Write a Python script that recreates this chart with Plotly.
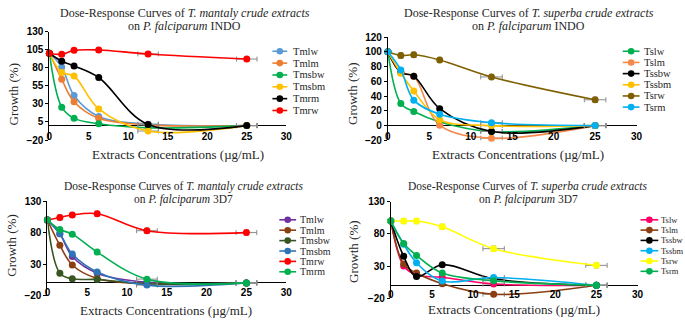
import plotly.graph_objects as go

W, H = 685, 325

# ---------------- data ----------------
CONC = [0, 1.5625, 3.125, 6.25, 12.5, 25]
X_TICKS = [0, 5, 10, 15, 20, 25, 30]

# Panel A : T. mantaly on P. falciparum INDO
A_NAMES = ["Tmlw", "Tmlm", "Tmsbw", "Tmsbm", "Tmrm", "Tmrw"]
A_TMLW = [100, 81, 41.5, 12.5, 2, 0]
A_TMLM = [100, 64, 33, 10, 1, 0]
A_TMSBW = [100, 25.5, 10, 2.5, -3, 0]
A_TMSBM = [100, 73.5, 68.5, 23, -7.5, 0]
A_TMRM = [100, 89, 82.5, 66.5, 1.5, 0]
A_TMRW = [100, 98.5, 104, 104.5, 99, 92]
A_YERR = [2, 2, 2, 2, 3, 3]
A_YTICKS = [-20, 5, 30, 55, 80, 105, 130]

# Panel B : T. superba on P. falciparum INDO
B_NAMES = ["Tslw", "Tslm", "Tssbw", "Tssbm", "Tsrw", "Tsrm"]
B_TSLW = [100, 30, 19, 5, -8, 0]
B_TSLM = [100, 72, 67, 0.5, -17, 0]
B_TSSBW = [100, 72, 67, 23, -8, 0]
B_TSSBM = [100, 71, 47, 8, 0, 0]
B_TSRW = [100, 95, 96, 89, 66, 35]
B_TSRM = [100, 75.5, 34.5, 15.5, 4, 0]
B_YERR = [2, 2, 2, 2, 3.5, 2]
B_YTICKS = [-20, 0, 20, 40, 60, 80, 100, 120]

# Panel C : T. mantaly on P. falciparum 3D7
C_NAMES = ["Tmlw", "Tmlm", "Tmsbw", "Tmsbm", "Tmrw", "Tmrm"]
C_TMLW = [100, 78, 42, 15.5, 1, 0]
C_TMLM = [100, 60, 28.5, 7, -1.5, 0]
C_TMSBW = [100, 15.5, 6.5, 5.5, -1.5, 0]
C_TMSBM = [100, 78, 46, 17.5, -3.5, 0]
C_TMRW = [100, 104, 108, 110, 83, 80]
C_TMRM = [100, 85, 77.5, 49, 6, 0]
C_YERR = [2, 2, 2, 2, 4, 2]
C_YTICKS = [-20, 30, 80, 130]

# Panel D : T. superba on P. falciparum 3D7
D_NAMES = ["Tslw", "Tslm", "Tssbw", "Tssbm", "Tsrw", "Tsrm"]
D_TSLW = [100, 30, 16, 12.5, 2, 0]
D_TSLM = [100, 33, 19, 2.5, -14, 0]
D_TSSBW = [100, 45, 13.5, 32, 10, 0]
D_TSSBM = [100, 64, 35, 6.5, 12, 0]
D_TSRW = [100, 100, 100, 91, 57, 31]
D_TSRM = [100, 65, 46.5, 19, 7, 0]
D_YERR = [2, 2, 2, 2, 4, 2]
D_YTICKS = [-20, 30, 80, 130]

X_ERR = [0, 0, 0, 0, 1.3, 1.3]

# ---------------- styles ----------------
A_COLORS = ["#5B9BD5", "#ED7D31", "#00B050", "#FFC000", "#000000", "#FF0000"]
B_COLORS = ["#00B050", "#F4894A", "#000000", "#FFC000", "#7F6000", "#00B0F0"]
C_COLORS = ["#7030A0", "#8B3E12", "#375623", "#2E75B6", "#FF0000", "#00B050"]
D_COLORS = ["#FF0066", "#8B3E12", "#000000", "#00B0F0", "#FFFF00", "#00B050"]

SERIF = "'Liberation Serif', 'Times New Roman', serif"
SANS = "'Liberation Sans', Arial, sans-serif"
TXT = "#262626"


def px(x):
    return x / W


def py(y):
    return 1 - y / H


panels = [
    dict(series=[A_TMLW, A_TMLM, A_TMSBW, A_TMSBM, A_TMRM, A_TMRW], names=A_NAMES,
         colors=A_COLORS, yerr=A_YERR, yticks=A_YTICKS, yrange=[-20, 130],
         box=(47, 287, 26.5, 139.2),
         title=("Dose-Response Curves of <i>T. mantaly crude extracts</i>",
                "on <i>P. falciparum</i> INDO"),
         tpos=(184, 7.5, 21, 12), xt=(177, 154), yt=(11, 92),
         leg=(273, 288, 292, 47, 12.3, 10.5)),
    dict(series=[B_TSLW, B_TSLM, B_TSSBW, B_TSSBM, B_TSRW, B_TSRM], names=B_NAMES,
         colors=B_COLORS, yerr=B_YERR, yticks=B_YTICKS, yrange=[-20, 120],
         box=(390, 642, 32.3, 139.5),
         title=("Dose-Response Curves of <i>T. superba crude extracts</i>",
                "on <i>P. falciparum</i> INDO"),
         tpos=(533, 7.5, 21, 12), xt=(522, 154), yt=(354, 91),
         leg=(628, 645, 648, 47, 11.6, 10.5)),
    dict(series=[C_TMLW, C_TMLM, C_TMSBW, C_TMSBM, C_TMRW, C_TMRM], names=C_NAMES,
         colors=C_COLORS, yerr=C_YERR, yticks=C_YTICKS, yrange=[-20, 130],
         box=(45, 287, 202.6, 300.6),
         title=("Dose-Response Curves of <i>T. mantaly crude extracts</i>",
                "on <i>P. falciparum</i> 3D7"),
         tpos=(183, 187.5, 201, 11.5), xt=(165, 316), yt=(9, 249),
         leg=(280, 297, 299, 222, 10.8, 10)),
    dict(series=[D_TSLW, D_TSLM, D_TSSBW, D_TSSBM, D_TSRW, D_TSRM], names=D_NAMES,
         colors=D_COLORS, yerr=D_YERR, yticks=D_YTICKS, yrange=[-20, 130],
         box=(393, 643, 203.3, 303.3),
         title=("Dose-Response Curves of <i>T. superba crude extracts</i>",
                "on <i>P. falciparum</i> 3D7"),
         tpos=(532, 187.5, 201, 11.5), xt=(518, 315), yt=(355, 255),
         leg=(646, 664, 665, 222, 10.7, 8.5)),
]

fig = go.Figure()
annotations = []
shapes = []
layout_axes = {}

for k, p in enumerate(panels):
    sfx = "" if k == 0 else str(k + 1)
    xa, ya = "x" + sfx, "y" + sfx
    for vals, name, col, ye in zip(p["series"], p["names"], p["colors"], p["yerr"]):
        fig.add_trace(go.Scatter(
            x=CONC, y=vals, name=name, xaxis=xa, yaxis=ya, mode="lines+markers",
            line=dict(color=col, width=1.6, shape="spline", smoothing=1),
            marker=dict(color=col, size=7),
            error_y=dict(type="constant", value=ye, color="#8C8C8C", thickness=1, width=2.5),
            error_x=dict(type="data", array=X_ERR, color="#8C8C8C", thickness=1, width=2.5),
            cliponaxis=False, showlegend=False))
    x0, x1, yt, yb = p["box"]
    layout_axes["xaxis" + sfx] = dict(
        domain=[px(x0), px(x1)], anchor=ya, range=[0, 30], tickvals=X_TICKS,
        showline=False, zeroline=False, showgrid=False, ticks="",
        ticklabelstandoff=-11,
        tickfont=dict(family=SANS, size=10, color="black", weight="bold"))
    layout_axes["yaxis" + sfx] = dict(
        domain=[py(yb), py(yt)], anchor=xa, range=p["yrange"], tickvals=p["yticks"],
        showline=True, linecolor="black", linewidth=1, zeroline=True,
        zerolinecolor="black", zerolinewidth=1, showgrid=False,
        ticks="outside", ticklen=3, tickcolor="black",
        tickfont=dict(family=SANS, size=10, color="black", weight="bold"))
    # titles
    tx, ty1, ty2, tfs = p["tpos"]
    for line, yy in zip(p["title"], (ty1, ty2)):
        annotations.append(dict(text=line, x=px(tx), y=py(yy), xref="paper", yref="paper",
                                xanchor="center", yanchor="middle", showarrow=False,
                                font=dict(family=SERIF, size=tfs, color=TXT)))
    annotations.append(dict(text="Extracts Concentrations (µg/mL)", x=px(p["xt"][0]),
                            y=py(p["xt"][1]), xref="paper", yref="paper",
                            xanchor="center", yanchor="middle", showarrow=False,
                            font=dict(family=SERIF, size=13, color=TXT)))
    annotations.append(dict(text="Growth (%)", x=px(p["yt"][0]), y=py(p["yt"][1]),
                            xref="paper", yref="paper", textangle=-90,
                            xanchor="center", yanchor="middle", showarrow=False,
                            font=dict(family=SERIF, size=13, color=TXT)))
    # legend (drawn as a key beside each panel)
    lx0, lx1, ltx, ly0, ldy, lfs = p["leg"]
    for i, (name, col) in enumerate(zip(p["names"], p["colors"])):
        yy = ly0 + i * ldy
        shapes.append(dict(type="line", xref="paper", yref="paper", x0=px(lx0), x1=px(lx1),
                           y0=py(yy), y1=py(yy), line=dict(color=col, width=1.6)))
        shapes.append(dict(type="circle", xref="paper", yref="paper", xsizemode="pixel",
                           ysizemode="pixel", xanchor=px((lx0 + lx1) / 2), yanchor=py(yy),
                           x0=-3.3, x1=3.3, y0=-3.3, y1=3.3, fillcolor=col,
                           line=dict(color=col, width=0)))
        annotations.append(dict(text=name, x=px(ltx), y=py(yy), xref="paper", yref="paper",
                                xanchor="left", yanchor="middle", showarrow=False,
                                font=dict(family=SERIF, size=lfs, color=TXT)))

fig.update_layout(
    width=W, height=H, margin=dict(l=0, r=0, t=0, b=0),
    paper_bgcolor="white", plot_bgcolor="white",
    annotations=annotations, shapes=shapes, **layout_axes)

fig.write_html("out.html", config={"displayModeBar": False},
               post_script="document.body.style.margin='0px';document.body.style.overflow='hidden';")
